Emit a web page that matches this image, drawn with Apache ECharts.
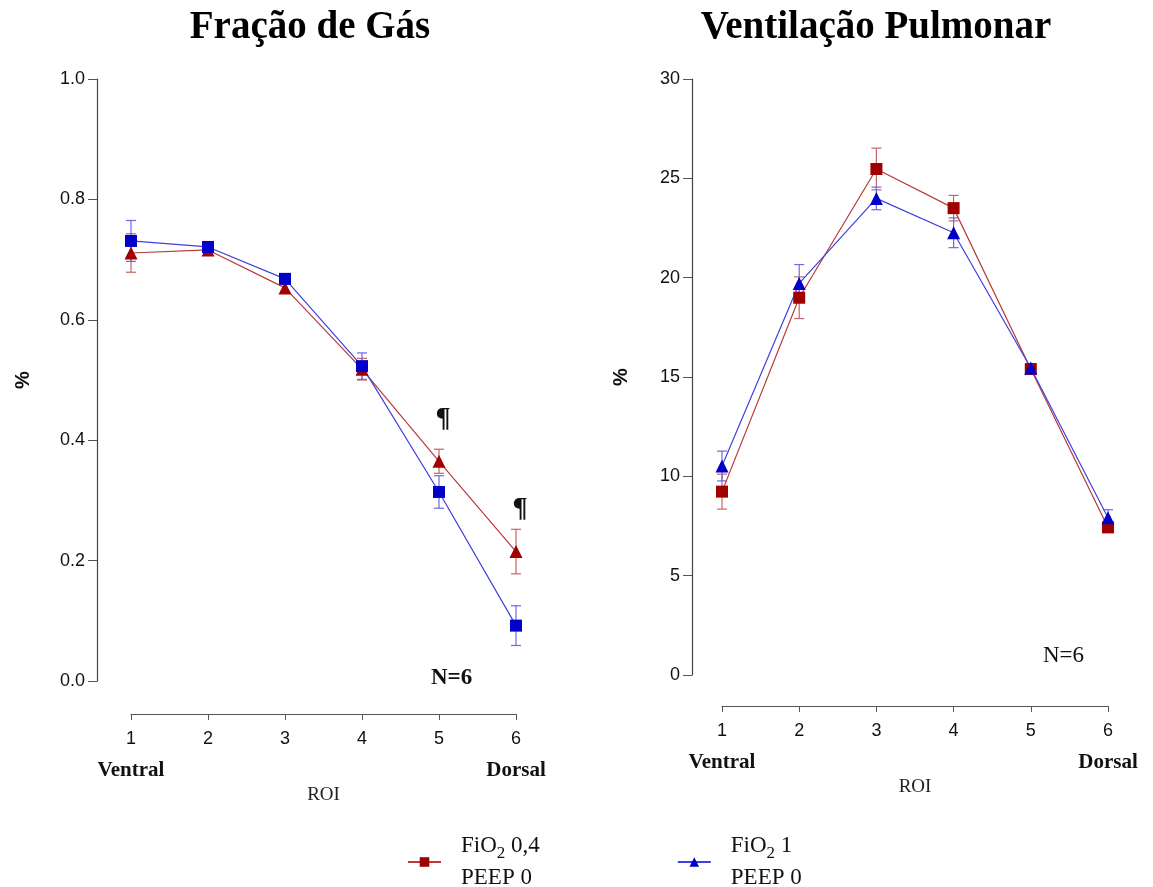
<!DOCTYPE html>
<html>
<head>
<meta charset="utf-8">
<script src="https://cdn.jsdelivr.net/npm/echarts@6/dist/echarts.min.js"></script>
<style>
  html, body { margin: 0; padding: 0; background: #fff; }
  #chart { width: 1153px; height: 887px; }
</style>
</head>
<body>
<div id="chart"></div>
<script>
// Regions of interest, ventral (1) to dorsal (6)
const roi = ['1', '2', '3', '4', '5', '6'];

// Gas fraction (mean and SEM)
const gasFio04 = [0.711, 0.716, 0.653, 0.518, 0.365, 0.215];
const gasFio04Err = [0.032, 0.008, 0.006, 0.018, 0.020, 0.037];
const gasFio1 = [0.731, 0.721, 0.668, 0.523, 0.314, 0.092];
const gasFio1Err = [0.034, 0.008, 0.005, 0.022, 0.027, 0.033];

// Pulmonary ventilation, % (mean and SEM)
const ventFio04 = [9.23, 18.99, 25.47, 23.50, 15.40, 7.43];
const ventFio04Err = [0.88, 1.05, 1.05, 0.64, 0.20, 0.15];
const ventFio1 = [10.52, 19.71, 23.99, 22.26, 15.45, 7.92];
const ventFio1Err = [0.75, 0.95, 0.57, 0.75, 0.15, 0.40];

// Indices flagged as significant on the gas fraction panel
const gasMarked = [4, 5];

const RED = '#a00000';
const RED_LINE = '#b83a3a';
const RED_BAR = '#c86464';
const BLUE = '#0000c8';
const BLUE_LINE = '#4040e0';
const BLUE_BAR = '#6a6ae8';
const SERIF = '"Liberation Serif", "DejaVu Serif", serif';
const SANS = '"Liberation Sans", Arial, sans-serif';

const NAME_A = 'FiO2 0,4';
const NAME_B = 'FiO2 1';

function errData(mean, err) {
  return mean.map((m, i) => [i, m, err[i]]);
}

function errorBars(gridIdx, mean, err, color) {
  return {
    type: 'custom',
    xAxisIndex: gridIdx,
    yAxisIndex: gridIdx,
    silent: true,
    z: 1,
    data: errData(mean, err),
    encode: { x: 0, y: 1 },
    renderItem: function (params, api) {
      const x = api.value(0), m = api.value(1), e = api.value(2);
      const top = api.coord([x, m + e]);
      const bot = api.coord([x, m - e]);
      const cap = 5;
      const style = { stroke: color, lineWidth: 1.2, fill: null };
      return {
        type: 'group',
        children: [
          { type: 'line', shape: { x1: top[0], y1: top[1], x2: bot[0], y2: bot[1] }, style: style },
          { type: 'line', shape: { x1: top[0] - cap, y1: top[1], x2: top[0] + cap, y2: top[1] }, style: style },
          { type: 'line', shape: { x1: bot[0] - cap, y1: bot[1], x2: bot[0] + cap, y2: bot[1] }, style: style }
        ]
      };
    }
  };
}

function lineSeries(name, gridIdx, values, symbol, color, lineColor, size, labelIdx) {
  return {
    name: name,
    type: 'line',
    xAxisIndex: gridIdx,
    yAxisIndex: gridIdx,
    symbol: symbol,
    symbolSize: size,
    z: 3,
    itemStyle: { color: color },
    lineStyle: { color: lineColor, width: 1.2 },
    emphasis: { disabled: true },
    data: values.map((v, i) => {
      if (labelIdx && labelIdx.indexOf(i) >= 0) {
        return {
          value: v,
          label: {
            show: true, position: 'top', distance: 22, offset: [4, 0], formatter: '¶',
            fontFamily: SERIF, fontWeight: 'bold', fontSize: 28, color: '#111'
          }
        };
      }
      return v;
    })
  };
}

function xAxisFor(gridIdx, offset, nameGap) {
  return {
    type: 'category',
    gridIndex: gridIdx,
    data: roi,
    boundaryGap: false,
    position: 'bottom',
    offset: offset,
    name: 'ROI',
    nameLocation: 'middle',
    nameGap: nameGap,
    nameMoveOverlap: false,
    nameTextStyle: { fontFamily: SERIF, fontSize: 19, color: '#222' },
    axisLine: { onZero: false, lineStyle: { color: '#555', width: 1.2 } },
    axisTick: { alignWithLabel: true, interval: 0, length: 6, lineStyle: { color: '#555' } },
    axisLabel: {
      interval: 0,
      margin: 9,
      fontFamily: SANS, fontSize: 18, color: '#111',
      lineHeight: 32,
      formatter: function (v, i) {
        if (i === 0) return v + '\n{side|Ventral}';
        if (i === roi.length - 1) return v + '\n{side|Dorsal}';
        return v;
      },
      rich: {
        side: { fontFamily: SERIF, fontWeight: 'bold', fontSize: 21, color: '#111', lineHeight: 32 }
      }
    },
    splitLine: { show: false }
  };
}

function yAxisFor(gridIdx, opts) {
  return Object.assign({
    type: 'value',
    gridIndex: gridIdx,
    name: '%',
    nameLocation: 'middle',
    nameRotate: 90,
    nameTextStyle: { fontFamily: SANS, fontWeight: 'bold', fontSize: 20, color: '#111' },
    axisLine: { show: true, onZero: false, lineStyle: { color: '#444', width: 1.2 } },
    axisTick: { show: true, length: 9, lineStyle: { color: '#555' } },
    splitLine: { show: false },
    axisLabel: { fontFamily: SANS, fontSize: 18, color: '#111', margin: 12 }
  }, opts);
}

const chart = echarts.init(document.getElementById('chart'), null, { renderer: 'canvas' });

chart.setOption({
  animation: false,
  backgroundColor: '#fff',
  title: [
    { text: 'Fração de Gás', left: 305, top: 3, textAlign: 'center',
      textStyle: { fontFamily: SERIF, fontWeight: 'bold', fontSize: 39, color: '#000' } },
    { text: 'Ventilação Pulmonar', left: 871, top: 3, textAlign: 'center',
      textStyle: { fontFamily: SERIF, fontWeight: 'bold', fontSize: 39, color: '#000' } }
  ],
  grid: [
    { left: 131, right: 637, top: 79, bottom: 206 },
    { left: 722, right: 45, top: 79, bottom: 212 }
  ],
  xAxis: [xAxisFor(0, 33, 72), xAxisFor(1, 31, 72)],
  yAxis: [
    yAxisFor(0, { min: 0, max: 1, interval: 0.2, offset: 34, nameGap: 64,
      axisLabel: { fontFamily: SANS, fontSize: 18, color: '#111', margin: 12,
        formatter: v => v.toFixed(1) } }),
    yAxisFor(1, { min: 0, max: 30, interval: 5, offset: 30, nameGap: 61 })
  ],
  legend: {
    left: 407, top: 830,
    padding: 0,
    itemGap: 137,
    itemWidth: 33, itemHeight: 12,
    data: [NAME_A, NAME_B],
    selectedMode: false,
    formatter: function (name) {
      return name === NAME_A ? 'FiO{sub|2} 0,4\nPEEP 0' : 'FiO{sub|2} 1\nPEEP 0';
    },
    textStyle: {
      fontFamily: SERIF, fontSize: 23, color: '#111', lineHeight: 32, padding: [0, 0, 0, 15],
      rich: {
        sub: { fontFamily: SERIF, fontSize: 17, color: '#111', verticalAlign: 'bottom', padding: [10, 0, 0, 0], lineHeight: 32 }
      }
    }
  },
  graphic: [
    { type: 'text', left: 431, top: 667,
      style: { text: 'N=6', fontFamily: SERIF, fontWeight: 'bold', fontSize: 23, fill: '#111' } },
    { type: 'text', left: 1043, top: 644,
      style: { text: 'N=6', fontFamily: SERIF, fontSize: 23, fill: '#111' } }
  ],
  series: [
    // Pulmonary ventilation panel
    errorBars(1, ventFio04, ventFio04Err, RED_BAR),
    errorBars(1, ventFio1, ventFio1Err, BLUE_BAR),
    lineSeries(NAME_A, 1, ventFio04, 'rect', RED, RED_LINE, 12),
    lineSeries(NAME_B, 1, ventFio1, 'triangle', BLUE, BLUE_LINE, 13),
    // Gas fraction panel
    errorBars(0, gasFio04, gasFio04Err, RED_BAR),
    errorBars(0, gasFio1, gasFio1Err, BLUE_BAR),
    lineSeries(NAME_A, 0, gasFio04, 'triangle', RED, RED_LINE, 13, gasMarked),
    lineSeries(NAME_B, 0, gasFio1, 'rect', BLUE, BLUE_LINE, 12)
  ]
});
</script>
</body>
</html>
